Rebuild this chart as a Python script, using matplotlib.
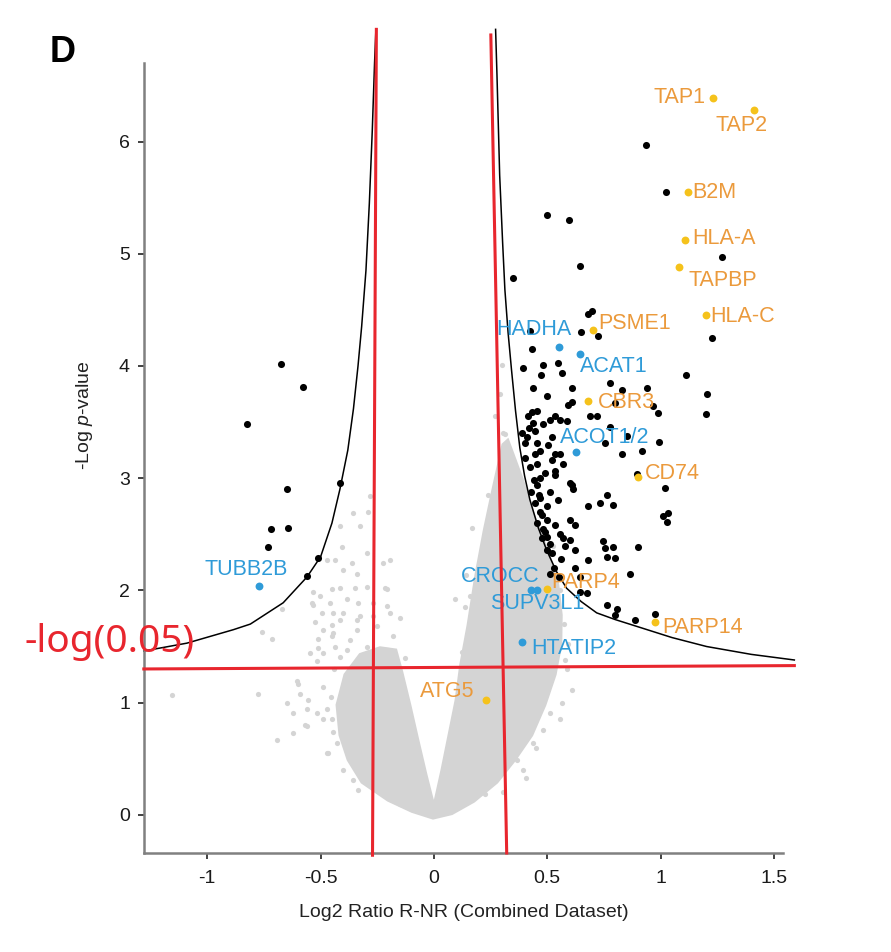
import matplotlib
matplotlib.use('Agg')
import matplotlib.pyplot as plt
from matplotlib.patches import Polygon

plt.rcParams['font.family'] = ['Liberation Sans', 'DejaVu Sans']
plt.rcParams['mathtext.fontset'] = 'custom'
plt.rcParams['mathtext.it'] = 'Liberation Sans:italic'
plt.rcParams['mathtext.rm'] = 'Liberation Sans'

# significant hits (black)
sig_x = [-0.675, -0.579, -0.825, -0.415, -0.650, -0.720, -0.643, -0.731, -0.510, -0.562,
         0.935, 1.022, 0.500, 0.595, 1.269, 0.643, 0.350, 0.681, 0.696, 0.423,
         0.647, 0.725, 1.228, 0.431, 0.546, 0.479, 0.394, 0.472, 1.110, 0.563,
         0.776, 0.828, 0.938, 0.607, 0.435, 0.497, 1.203, 0.592, 0.607, 0.798,
         0.967, 0.431, 0.688, 0.718, 0.534, 0.556, 0.585, 1.199, 0.987, 0.438,
         0.387, 0.409, 0.519, 0.776, 0.850, 0.401, 0.453, 0.504, 0.754, 0.993,
         0.468, 0.556, 0.828, 0.916, 0.570, 0.453, 0.446, 0.534, 0.519, 0.534,
         0.468, 0.453, 0.607, 0.614, 0.512, 0.534, 0.600, 0.894, 1.019, 0.468,
         0.446, 0.548, 0.497, 0.681, 0.732, 0.762, 0.791, 1.011, 1.034, 1.026,
         0.475, 0.497, 0.534, 0.600, 0.622, 0.556, 0.570, 0.490, 0.475, 0.512,
         0.497, 0.519, 0.622, 0.681, 0.747, 0.754, 0.791, 0.762, 0.798, 0.901,
         0.622, 0.644, 0.865, 0.644, 0.674, 0.762, 0.806, 0.798, 0.887, 0.975,
         0.420, 0.445, 0.400, 0.425, 0.440, 0.430, 0.470, 0.455, 0.480, 0.500,
         0.465, 0.490, 0.415, 0.455, 0.480, 0.510, 0.530, 0.550, 0.510, 0.560,
         0.580, 0.600]
sig_y = [4.02, 3.81, 3.48, 2.96, 2.90, 2.55, 2.56, 2.39, 2.29, 2.13,
         5.97, 5.55, 5.35, 5.30, 4.97, 4.89, 4.78, 4.46, 4.49, 4.31,
         4.30, 4.27, 4.25, 4.15, 4.03, 4.01, 3.98, 3.92, 3.92, 3.94,
         3.85, 3.79, 3.80, 3.80, 3.80, 3.73, 3.75, 3.65, 3.68, 3.67,
         3.64, 3.59, 3.55, 3.55, 3.55, 3.52, 3.51, 3.57, 3.58, 3.49,
         3.40, 3.37, 3.37, 3.46, 3.38, 3.31, 3.31, 3.30, 3.31, 3.32,
         3.24, 3.22, 3.22, 3.24, 3.13, 3.13, 3.22, 3.22, 3.16, 3.06,
         3.00, 2.94, 2.94, 2.90, 2.88, 3.03, 2.96, 3.04, 2.91, 2.82,
         2.78, 2.81, 2.75, 2.75, 2.78, 2.85, 2.76, 2.66, 2.69, 2.61,
         2.67, 2.63, 2.58, 2.63, 2.58, 2.50, 2.47, 2.52, 2.47, 2.41,
         2.36, 2.33, 2.36, 2.27, 2.44, 2.38, 2.39, 2.30, 2.29, 2.39,
         2.20, 2.12, 2.15, 1.99, 1.98, 1.87, 1.83, 1.78, 1.74, 1.79,
         3.45, 3.42, 3.18, 3.10, 2.98, 2.88, 2.70, 2.60, 2.55, 2.48,
         2.85, 3.05, 3.55, 3.60, 3.48, 3.52, 2.20, 2.12, 2.15, 2.28,
         2.40, 2.45]

# background proteins: dense core outline + scattered points (grey)
core_x = [-0.238, -0.326, -0.393, -0.428, -0.415, -0.379, -0.318, -0.203, -0.097, -0.004,
          0.079, 0.176, 0.278, 0.357, 0.432, 0.490, 0.535, 0.560, 0.562, 0.545,
          0.500, 0.440, 0.390, 0.350, 0.326,
          0.304, 0.260, 0.222, 0.185, 0.150, 0.118, 0.097, 0.071, 0.035, 0.0,
          -0.035, -0.071, -0.106, -0.141, -0.168]
core_y = [1.49, 1.43, 1.25, 0.98, 0.71, 0.49, 0.29, 0.13, 0.03, -0.03,
          0.01, 0.12, 0.29, 0.49, 0.71, 0.98, 1.25, 1.52, 1.78, 2.08,
          2.36, 2.67, 2.99, 3.21, 3.34,
          3.30, 2.90, 2.54, 2.14, 1.69, 1.34, 1.02, 0.76, 0.40, 0.08,
          0.36, 0.67, 0.98, 1.27, 1.47]
bg_x = [-1.157, -0.775, -0.760, -0.716, -0.694, -0.621, -0.650, -0.606, -0.591, -0.562,
        -0.569, -0.672, -0.525, -0.539, -0.532, -0.510, -0.510, -0.547, -0.517, -0.488,
        -0.473, -0.466, -0.444, -0.451, -0.451, -0.437, -0.415, -0.400, -0.385, -0.371,
        -0.341, -0.334, -0.348, -0.400, -0.363, -0.451, -0.459, -0.488, -0.356, -0.224,
        -0.157, -0.282, -0.290, -0.356, -0.415, -0.326, -0.407, -0.297, -0.224, -0.473,
        -0.437, -0.415, -0.532, -0.503, -0.495, -0.444, -0.268, -0.216, -0.209, -0.194,
        -0.341, -0.297, -0.209, -0.268, -0.415, -0.326, -0.194, -0.444, -0.341, -0.253,
        -0.180, -0.488, -0.385, -0.297, -0.209, -0.599, -0.554, -0.517, -0.621, -0.562,
        -0.488, -0.473, -0.429, -0.400, -0.415, -0.341, -0.238, -0.150,
        0.166, 0.217, 0.247, 0.321, 0.328, 0.159, 0.173, 0.188, 0.225, 0.365,
        0.394, 0.438, 0.482, 0.512, 0.497, 0.423, 0.394, 0.526, 0.350, 0.313,
        0.348, 0.335, 0.299, 0.304, 0.578, 0.609, 0.556, 0.591, 0.141, 0.093,
        -0.440, -0.455, -0.448, -0.400, -0.335, 0.565, 0.585, 0.575, 0.556, 0.525,
        0.452, 0.405, 0.305, 0.122, -0.128, 0.135, -0.150, 0.270, 0.290, 0.240]
bg_y = [1.07, 1.08, 1.63, 1.57, 0.67, 0.73, 1.00, 1.19, 1.08, 0.94,
        0.80, 1.83, 1.72, 1.89, 1.99, 1.57, 1.49, 1.44, 1.37, 1.14,
        0.94, 0.55, 0.74, 1.69, 1.59, 1.50, 1.41, 1.80, 1.92, 1.56,
        1.74, 1.89, 2.02, 2.18, 2.24, 2.01, 1.89, 1.65, 0.31, 0.19,
        0.13, 2.84, 2.70, 2.69, 2.57, 2.57, 2.39, 2.33, 2.24, 2.27,
        2.27, 2.02, 1.87, 1.95, 1.80, 1.80, 1.77, 2.02, 1.86, 2.27,
        2.15, 2.03, 2.01, 1.89, 1.74, 1.77, 1.80, 1.62, 1.65, 1.68,
        1.59, 1.44, 1.47, 1.50, 1.47, 1.17, 1.02, 0.91, 0.91, 0.79,
        0.85, 0.55, 0.64, 0.79, 1.02, 0.49, 0.25, 0.10,
        2.56, 2.36, 2.66, 3.05, 2.93, 1.95, 1.74, 1.50, 0.19, 0.49,
        0.40, 0.64, 0.76, 0.91, 1.11, 0.88, 1.20, 1.26, 0.97, 3.39,
        3.16, 2.99, 4.01, 3.40, 1.38, 1.11, 0.85, 1.52, 2.14, 1.92,
        1.30, 1.05, 0.85, 0.40, 0.22, 1.00, 1.30, 1.70, 2.00, 2.40,
        0.60, 0.33, 0.20, 1.45, 1.40, 1.85, 1.75, 3.55, 3.75, 2.85]

# highlighted proteins
up_names = ['TAP1', 'TAP2', 'B2M', 'HLA-A', 'TAPBP', 'HLA-C', 'PSME1', 'CBR3',
            'CD74', 'PARP4', 'PARP14', 'ATG5']
up_x = [1.232, 1.412, 1.119, 1.107, 1.082, 1.199, 0.703, 0.681, 0.900, 0.497, 0.975, 0.229]
up_y = [6.39, 6.28, 5.55, 5.12, 4.88, 4.45, 4.32, 3.69, 3.01, 2.01, 1.72, 1.02]
down_names = ['TUBB2B', 'HADHA', 'ACAT1', 'ACOT1/2', 'CROCC', 'SUPV3L1', 'HTATIP2']
down_x = [-0.772, 0.550, 0.644, 0.626, 0.428, 0.454, 0.387]
down_y = [2.04, 4.17, 4.11, 3.23, 2.00, 2.00, 1.54]

# significance curve
curve_left_x = [-1.28, -1.09, -0.885, -0.81, -0.665, -0.56, -0.50, -0.45, -0.415, -0.38,
                -0.355, -0.335, -0.319, -0.30, -0.285, -0.272, -0.262, -0.256]
curve_left_y = [1.46, 1.53, 1.65, 1.70, 1.89, 2.12, 2.30, 2.60, 2.90, 3.25,
                3.62, 4.0, 4.35, 4.85, 5.45, 6.1, 6.7, 7.0]
curve_right_x = [0.272, 0.278, 0.290, 0.303, 0.313, 0.327, 0.342, 0.36, 0.379, 0.40,
                 0.423, 0.46, 0.497, 0.54, 0.585, 0.65, 0.718, 0.80, 0.894, 1.05,
                 1.203, 1.40, 1.59]
curve_right_y = [7.0, 6.6, 5.7, 5.1, 4.68, 4.3, 3.97, 3.6, 3.27, 3.02,
                 2.81, 2.56, 2.36, 2.17, 2.02, 1.90, 1.80, 1.74, 1.68, 1.58,
                 1.50, 1.43, 1.38]

# red cut-off lines drawn over the figure
cut_left = ([-0.254, -0.271], [7.0, -0.36])
cut_right = ([0.251, 0.321], [6.95, -0.34])
cut_p = ([-1.28, 1.59], [1.30, 1.33])

up_offsets = {'TAP1': (-8, 0, 'right'), 'TAP2': (-38, -15, 'left'), 'B2M': (5, 0, 'left'),
              'HLA-A': (7, 2, 'left'), 'TAPBP': (9, -13, 'left'), 'HLA-C': (5, -1, 'left'),
              'PSME1': (5, 7, 'left'), 'CBR3': (10, -2, 'left'), 'CD74': (7, 4, 'left'),
              'PARP4': (5, 7, 'left'), 'PARP14': (7, -6, 'left'), 'ATG5': (-11, 9, 'right')}
down_offsets = {'TUBB2B': (-13, 16, 'center'), 'HADHA': (13, 17, 'right'),
                'ACAT1': (0, -13, 'left'), 'ACOT1/2': (-16, 15, 'left'),
                'CROCC': (9, 14, 'right'), 'SUPV3L1': (-47, -13, 'left'),
                'HTATIP2': (10, -6, 'left')}

GREY = '#d4d4d4'
YELLOW = '#f5c21b'
ORANGE = '#eb9a3c'
BLUE = '#2f9bd8'
RED = '#e8262e'

fig = plt.figure(figsize=(8.91, 9.52), dpi=100)
ax = fig.add_axes([0.1614, 0.1040, 0.7174, 0.8298])

ax.add_patch(Polygon(list(zip(core_x, core_y)), closed=True, facecolor=GREY,
                     edgecolor=GREY, linewidth=2, zorder=1))
ax.scatter(bg_x, bg_y, s=14, color=GREY, linewidths=0, zorder=1)
ax.scatter(sig_x, sig_y, s=26, color='black', linewidths=0, zorder=3)
ax.scatter(up_x, up_y, s=32, color=YELLOW, linewidths=0, zorder=4)
ax.scatter(down_x, down_y, s=32, color=BLUE, linewidths=0, zorder=4)

for name, x, y in zip(up_names, up_x, up_y):
    dx, dy, ha = up_offsets[name]
    ax.annotate(name, (x, y), xytext=(dx, dy), textcoords='offset pixels',
                ha=ha, va='center', fontsize=15.5, color=ORANGE, zorder=5)
for name, x, y in zip(down_names, down_x, down_y):
    dx, dy, ha = down_offsets[name]
    ax.annotate(name, (x, y), xytext=(dx, dy), textcoords='offset pixels',
                ha=ha, va='center', fontsize=15.5, color=BLUE, zorder=5)

ax.plot(curve_left_x, curve_left_y, color='black', lw=1.1, zorder=2, clip_on=False)
ax.plot(curve_right_x, curve_right_y, color='black', lw=1.1, zorder=2, clip_on=False)

for xs, ys in (cut_left, cut_right, cut_p):
    ax.plot(xs, ys, color=RED, lw=2.2, zorder=6, clip_on=False)

ax.set_xlim(-1.28, 1.54)
ax.set_ylim(-0.34, 6.70)
ax.set_xticks([-1, -0.5, 0, 0.5, 1, 1.5])
ax.set_xticklabels(['-1', '-0.5', '0', '0.5', '1', '1.5'])
ax.set_yticks(range(0, 7))

for side in ('top', 'right'):
    ax.spines[side].set_visible(False)
for side in ('left', 'bottom'):
    ax.spines[side].set_color('#808080')
    ax.spines[side].set_linewidth(1.8)
ax.tick_params(direction='out', length=4, width=1.3, color='#333333',
               labelsize=14, labelcolor='#1a1a1a')
ax.tick_params(axis='x', pad=8)
ax.tick_params(axis='y', pad=6)

ax.set_xlabel('Log2 Ratio R-NR (Combined Dataset)', fontsize=14, color='#222222')
ax.set_ylabel('-Log $\\it{p}$-value', fontsize=14, color='#222222')
ax.xaxis.set_label_coords(0.5, -0.064)
ax.yaxis.set_label_coords(-0.076, 0.554)

fig.text(50 / 891, 1 - 62 / 952, 'D', fontsize=26, fontweight='bold', va='baseline')
fig.text(25 / 891, 1 - 652 / 952, '-log(0.05)', fontsize=28, color=RED,
         family=['Noto Sans', 'DejaVu Sans'], va='baseline', zorder=7)

fig.savefig('out.png', dpi=100)
